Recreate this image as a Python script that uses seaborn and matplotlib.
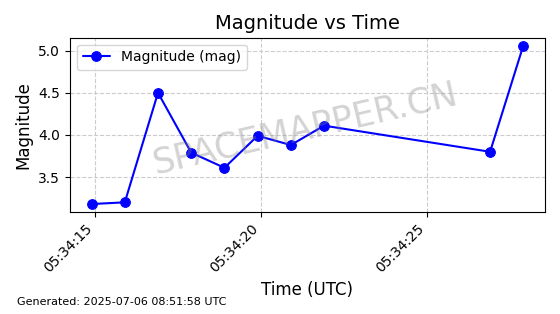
import matplotlib
matplotlib.use("Agg")
import matplotlib.pyplot as plt
import matplotlib.dates as mdates
import seaborn as sns
import pandas as pd

times = ["05:34:14.9", "05:34:15.9", "05:34:16.9", "05:34:17.9", "05:34:18.9",
         "05:34:19.9", "05:34:20.9", "05:34:21.9", "05:34:26.9", "05:34:27.9"]
magnitudes = [3.18, 3.20, 4.50, 3.79, 3.61, 3.99, 3.88, 4.11, 3.80, 5.06]

df = pd.DataFrame({
    "time": pd.to_datetime(["2025-07-06 " + t for t in times]),
    "mag": magnitudes,
})

sns.set_style("ticks", rc={"text.color": "black", "axes.labelcolor": "black",
                           "xtick.color": "black", "ytick.color": "black",
                           "axes.edgecolor": "black"})
plt.rcParams["font.family"] = ["DejaVu Sans"]

fig, ax = plt.subplots(figsize=(5.6, 3.14), dpi=100)
fig.subplots_adjust(left=0.125, right=0.973, top=0.88, bottom=0.325)

sns.lineplot(data=df, x="time", y="mag", ax=ax, color="blue", marker="o",
             markersize=7, markeredgecolor="blue", linewidth=1.5,
             label="Magnitude (mag)")

ax.xaxis.set_major_locator(mdates.SecondLocator(bysecond=range(0, 60, 5)))
ax.xaxis.set_major_formatter(mdates.DateFormatter("%H:%M:%S"))
plt.setp(ax.get_xticklabels(), rotation=45, ha="right")
ax.grid(True, linestyle="--", color="#cccccc", linewidth=0.8)
ax.set_axisbelow(True)

ax.set_title("Magnitude vs Time", fontsize=14)
ax.set_xlabel("Time (UTC)", fontsize=12)
ax.set_ylabel("Magnitude", fontsize=12)
ax.legend(loc="upper left", fontsize=10)

fig.text(0.545, 0.59, "SPACEMAPPER.CN", fontsize=25, color="gray", alpha=0.35,
         rotation=13, ha="center", va="center")
fig.text(0.03, 0.028, "Generated: 2025-07-06 08:51:58 UTC", fontsize=8)

fig.savefig("out.png", dpi=100)
